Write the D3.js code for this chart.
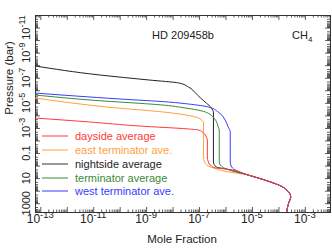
<!DOCTYPE html>
<html><head><meta charset="utf-8">
<script src="https://cdn.jsdelivr.net/npm/d3@7"></script>
<style>body{margin:0;background:#fff}svg{display:block}text{font-family:"Liberation Sans",Arial,sans-serif;fill:#222}</style>
</head><body><script>
// ---- data ----
const seriesNames = ["dayside average","east terminator ave.","nightside average","terminator average","west terminator ave."];
const seriesColors = ["#ff3a3a","#ffa040","#222222","#3a8a3a","#3a3aff"];
const legendColors = ["#ff3a3a","#ffa040","#999999","#3a8a3a","#3a3aff"];

const daysideX = [6.3e-14,7.2e-12,5.4e-10,4.0e-8,9.5e-8,1.48e-7,1.88e-7,2.06e-7,2.06e-7,2.25e-7,2.93e-7,4.18e-7,1.06e-6,7.1e-6,3.98e-5,1.23e-4,2.44e-4,2.91e-4,2.44e-4,2.04e-4];
const daysideP = [1.62e-4,3.34e-4,7.0e-4,1.21e-3,1.45e-3,2.55e-3,5.3e-3,9.1e-3,0.204,0.516,1.09,1.56,1.87,5.65,17.1,42.2,128,315,953,5000];

const eastX = [6.3e-14,3.15e-11,9.3e-9,9.5e-8,1.48e-7,1.48e-7,1.48e-7,1.61e-7,2.25e-7,3.5e-7,8.3e-7,7.1e-6,3.98e-5,1.23e-4,2.44e-4,2.91e-4,2.44e-4,2.04e-4];
const eastP = [4.1e-6,2.13e-5,6.4e-5,1.62e-4,4.0e-4,8.5e-4,0.204,0.516,1.09,1.56,2.68,5.65,17.1,42.2,128,315,953,5000];

const nightX = [6.3e-14,1.7e-11,1.27e-9,1.69e-8,4.0e-8,7.4e-8,1.13e-7,1.88e-7,2.93e-7,3.5e-7,3.5e-7,4.46e-7,1.06e-6,7.1e-6,3.98e-5,1.23e-4,2.44e-4,2.91e-4,2.44e-4,2.04e-4];
const nightP = [1.15e-8,5.98e-8,1.51e-7,2.6e-7,5.5e-7,1.66e-6,4.1e-6,1.03e-5,2.55e-5,6.4e-5,0.516,1.30,1.87,5.65,17.1,42.2,128,315,953,5000];

const termX = [6.3e-14,7.2e-12,9.3e-9,1.69e-8,1.76e-7,4.18e-7,5.3e-7,5.8e-7,5.8e-7,6.95e-7,1.06e-6,7.1e-6,3.98e-5,1.23e-4,2.44e-4,2.91e-4,2.44e-4,2.04e-4];
const termP = [2.38e-6,5.9e-6,1.77e-5,2.13e-5,5.4e-5,2.33e-4,8.5e-4,1.45e-3,0.516,1.09,1.87,5.65,17.1,42.2,128,315,953,5000];

const westX = [6.3e-14,9.5e-11,7.1e-9,4.0e-8,2.25e-7,5.3e-7,9.7e-7,1.26e-6,1.51e-6,1.51e-6,1.64e-6,2.29e-6,7.1e-6,3.98e-5,1.23e-4,2.44e-4,2.91e-4,2.44e-4,2.04e-4];
const westP = [1.66e-6,4.9e-6,8.6e-6,1.24e-5,2.13e-5,5.4e-5,2.33e-4,8.5e-4,2.08e-3,0.516,1.09,2.24,5.65,17.1,42.2,128,315,953,5000];

const xTickValues = [1e-13,1e-11,1e-9,1e-7,1e-5,1e-3];
const xTickExps = ["-13","-11","-9","-7","-5","-3"];
const yTickValues = [1000,10,0.1,1e-3,1e-5,1e-7,1e-9,1e-11];
const yTickBases = ["1000","10","0.1","10","10","10","10","10"];
const yTickExps = ["","","","-3","-5","-7","-9","-11"];

const titleText = "HD 209458b";
const xTitle = "Mole Fraction";
const yTitle = "Pressure (bar)";

// ---- chart ----
const W=332,H=250,L=35,R=330,T=15,B=212;
const svg = d3.select("body").append("svg").attr("width",W).attr("height",H);
const x = d3.scaleLog().domain([6.3e-14,8.9e-3]).range([L,R]);
const y = d3.scaleLog().domain([1e-12,5000]).range([T,B]);

function decTicks(lo,hi){const maj=[],min=[];for(let e=lo;e<=hi;e++){maj.push(Math.pow(10,e));for(let k=2;k<=9;k++)min.push(k*Math.pow(10,e));}return {maj,min};}
const xt = decTicks(-14,-2), yt = decTicks(-12,4);
const inX = v => v>=x.domain()[0]*0.999 && v<=x.domain()[1]*1.001;
const inY = v => v>=y.domain()[0]*0.999 && v<=y.domain()[1]*1.001;

function addAxis(gen, tr, vals, size){
  svg.append("g").attr("transform",tr)
    .call(gen.tickValues(vals).tickSize(size).tickFormat(""))
    .call(g=>{g.select(".domain").attr("stroke","#333");g.selectAll("line").attr("stroke","#333").attr("stroke-width",0.8);});
}
addAxis(d3.axisBottom(x),`translate(0,${B})`,xt.maj.filter(inX),-5);
addAxis(d3.axisBottom(x),`translate(0,${B})`,xt.min.filter(inX),-2.5);
addAxis(d3.axisTop(x),`translate(0,${T})`,xt.maj.filter(inX),-5);
addAxis(d3.axisTop(x),`translate(0,${T})`,xt.min.filter(inX),-2.5);
addAxis(d3.axisLeft(y),`translate(${L},0)`,yt.maj.filter(inY),-5);
addAxis(d3.axisLeft(y),`translate(${L},0)`,yt.min.filter(inY),-3);
addAxis(d3.axisRight(y),`translate(${R},0)`,yt.maj.filter(inY),-5);
addAxis(d3.axisRight(y),`translate(${R},0)`,yt.min.filter(inY),-3);

// x tick labels
xTickValues.forEach((v,i)=>{
  const t = svg.append("text").attr("x",x(v)).attr("y",223).attr("text-anchor","middle").attr("font-size",12);
  t.append("tspan").text("10");
  t.append("tspan").attr("dy",-5).attr("font-size",9.5).text(xTickExps[i]);
});
// y tick labels (rotated)
yTickValues.forEach((v,i)=>{
  const yy = y(v);
  const t = svg.append("text").attr("x",30).attr("y",yy).attr("text-anchor","middle").attr("font-size",11)
    .attr("transform",`rotate(-90,30,${yy})`);
  t.append("tspan").text(yTickBases[i]);
  if(yTickExps[i]) t.append("tspan").attr("dy",-5).attr("font-size",9).text(yTickExps[i]);
});

// titles
svg.append("text").attr("x",183).attr("y",39).attr("text-anchor","middle").attr("font-size",11).text(titleText);
const ch = svg.append("text").attr("x",292).attr("y",39).attr("font-size",11);
ch.append("tspan").text("CH");
ch.append("tspan").attr("dy",3).attr("font-size",8).text("4");
svg.append("text").attr("x",182).attr("y",243).attr("text-anchor","middle").attr("font-size",11.5).text(xTitle);
svg.append("text").attr("transform","translate(13,78) rotate(-90)").attr("text-anchor","middle").attr("font-size",11.5).text(yTitle);

// curves
const seriesX = [daysideX,eastX,nightX,termX,westX];
const seriesP = [daysideP,eastP,nightP,termP,westP];
const line = d3.line().x(d=>x(d[0])).y(d=>y(d[1])).curve(d3.curveMonotoneY);
svg.append("clipPath").attr("id","c").append("rect").attr("x",L).attr("y",T).attr("width",R-L).attr("height",B-T);
const order = [2,1,3,4,0];
order.forEach(i=>{
  const pts = seriesX[i].map((v,j)=>[v,seriesP[i][j]]);
  svg.append("path").attr("d",line(pts)).attr("fill","none").attr("stroke",seriesColors[i]).attr("stroke-width",1).attr("clip-path","url(#c)");
});

// legend
const legY = [136,150,164,178,191];
seriesNames.forEach((n,i)=>{
  svg.append("line").attr("x1",42).attr("x2",68).attr("y1",legY[i]).attr("y2",legY[i]).attr("stroke",legendColors[i]).attr("stroke-width",i===2?2:1);
  svg.append("text").attr("x",75).attr("y",legY[i]+4).attr("font-size",11).style("fill",seriesColors[i]).text(n);
});
</script></body></html>
